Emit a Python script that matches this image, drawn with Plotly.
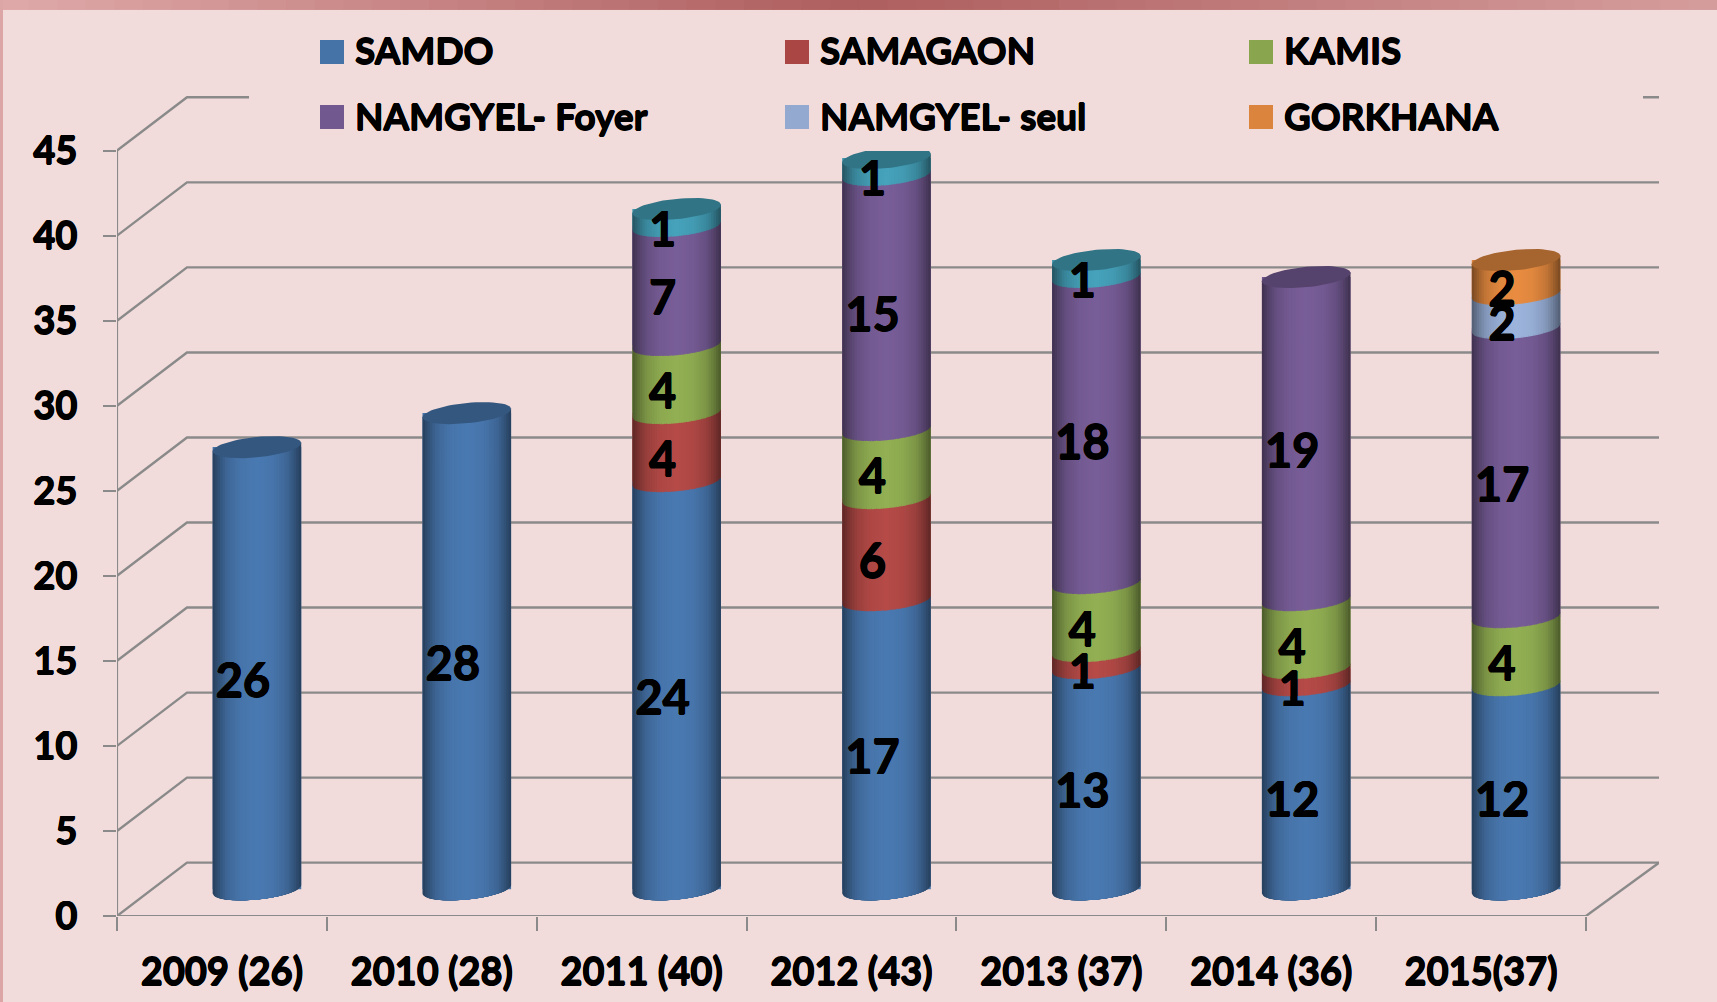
import numpy as np
import plotly.graph_objects as go

# ---- data ----
categories = ["2009 (26)", "2010 (28)", "2011 (40)", "2012 (43)", "2013 (37)", "2014 (36)", "2015(37)"]
samdo    = [26, 28, 24, 17, 13, 12, 12]
samagaon = [0, 0, 4, 6, 1, 1, 0]
kamis    = [0, 0, 4, 4, 4, 4, 4]
foyer    = [0, 0, 7, 15, 18, 19, 17]
autre    = [0, 0, 1, 1, 1, 0, 0]      # teal series, no legend entry in the original
seul     = [0, 0, 0, 0, 0, 0, 2]
gorkhana = [0, 0, 0, 0, 0, 0, 2]
y_ticks = [0, 5, 10, 15, 20, 25, 30, 35, 40, 45]

series_names = ["SAMDO", "SAMAGAON", "KAMIS", "NAMGYEL- Foyer", "", "NAMGYEL- seul", "GORKHANA"]
series_values = [samdo, samagaon, kamis, foyer, autre, seul, gorkhana]
series_colors = ["#4572A7", "#AA4643", "#89A54E", "#71588F", "#4198AF", "#93A9CF", "#DB843D"]

# ---- geometry of the fake 3D box (pixels) ----
W, H = 1717, 1002
PX_L, PX_FRONT_R, PX_BACK_R = 117.0, 1586.0, 1659.0
PX_BOTTOM, PX_TOP = 915.6, 96.0
UNIT = 17.0                                  # px per value unit
CAT = (PX_FRONT_R - PX_L) / len(categories)  # px per category
DX = 70.0 / CAT                              # depth in x-axis units
DY = 53.3 / UNIT                             # depth in y-axis units
R = 44.3 / CAT                               # cylinder radius, x units
SHEAR = 4.2 / UNIT                           # ellipse tilt, y units
B = 10.2 / UNIT                              # ellipse half-height, y units
LABEL_DROP = 6.5 / UNIT                      # text baseline correction, y units
X0, X1 = -0.5, len(categories) - 0.5
XMAX = X1 + (PX_BACK_R - PX_FRONT_R) / CAT
YMAX = (PX_BOTTOM - PX_TOP) / UNIT
BG = "#F2DCDB"
GRID = "#8A8A8A"
FONT = "Lato"
HEAVY = "0.6px 0 0 black, -0.6px 0 0 black, 0 0.6px 0 black, 0 -0.6px 0 black"


def shade(hex_color, f):
    rgb = [int(hex_color[i:i + 2], 16) for i in (1, 3, 5)]
    return "rgb({},{},{})".format(*[min(255, int(round(c * f))) for c in rgb])


def arc(cx, v, r, reverse=False):
    lim = np.arccos(r)
    phi = np.linspace(lim, np.pi - lim, 25)
    if not reverse:
        phi = phi[::-1]
    return cx + R * np.cos(phi), v + SHEAR * np.cos(phi) - B * np.sin(phi)


fig = go.Figure()
centers = [i + DX / 2 for i in range(len(categories))]
cum = np.zeros(len(categories))
bases = []
for vals in series_values:
    bases.append(cum.copy())
    cum = cum + np.array(vals)
totals = cum

# real stacked bars (the base layer of every cylinder)
for name, vals, base, col in zip(series_names, series_values, bases, series_colors):
    fig.add_trace(go.Bar(
        x=centers, y=[v if v else None for v in vals], base=list(base + DY / 2),
        width=2 * R, name=name or "Autre", marker=dict(color=col, line=dict(width=0)),
        showlegend=False, hoverinfo="skip"))

# box gridlines
gx, gy = [], []
for t in y_ticks:
    gx += [X0, X0 + DX, XMAX, None]
    gy += [t, t + DY, t + DY, None]
gx += [X1, XMAX, None]
gy += [0, DY, None]
fig.add_trace(go.Scatter(x=gx, y=gy, mode="lines", line=dict(color=GRID, width=2.4),
                         cliponaxis=False, showlegend=False, hoverinfo="skip"))
fig.add_trace(go.Scatter(x=[X0, X0, None, X0, X1], y=[0, 45, None, 0, 0], mode="lines",
                         line=dict(color=GRID, width=2.2), cliponaxis=False,
                         showlegend=False, hoverinfo="skip"))

# cylinder shading: nested bands from dark edge to bright centre
levels = np.linspace(1.0, 0.06, 18)
for r in levels:
    f = float(np.interp(r, [0, 0.4, 0.7, 0.85, 0.95, 1.0], [1.07, 1.02, 0.9, 0.76, 0.64, 0.58]))
    for vals, base, col in zip(series_values, bases, series_colors):
        xs, ys = [], []
        for c, v, b in zip(centers, vals, base):
            if not v:
                continue
            low = b + DY / 2
            high = low + v + 0.06
            xa, ya = arc(c, low, r)
            xb, yb = arc(c, high, r, reverse=True)
            xs += list(xa) + list(xb) + [None]
            ys += list(ya) + list(yb) + [None]
        if xs:
            fig.add_trace(go.Scatter(x=xs, y=ys, mode="lines", fill="toself",
                                     fillcolor=shade(col, f), line=dict(width=0),
                                     showlegend=False, hoverinfo="skip"))

# top caps
phi_full = np.linspace(0, 2 * np.pi, 61)
for idx, (vals, base, col) in enumerate(zip(series_values, bases, series_colors)):
    xs, ys = [], []
    for c, v, b, tot in zip(centers, vals, base, totals):
        if v and b + v == tot:
            top = tot + DY / 2
            xs += list(c + R * np.cos(phi_full)) + [None]
            ys += list(top + SHEAR * np.cos(phi_full) + B * np.sin(phi_full)) + [None]
    if xs:
        fig.add_trace(go.Scatter(x=xs, y=ys, mode="lines", fill="toself",
                                 fillcolor=shade(col, 0.76), line=dict(width=0),
                                 showlegend=False, hoverinfo="skip"))

# value labels
for vals, base in zip(series_values, bases):
    lx, ly, lt = [], [], []
    for i, (v, b) in enumerate(zip(vals, base)):
        if v:
            lx.append(i + 0.3 * DX)
            ly.append(b + v / 2 + 0.3 * DY - LABEL_DROP)
            lt.append(str(v))
    if lx:
        fig.add_trace(go.Scatter(x=lx, y=ly, text=lt, mode="text", textposition="middle center",
                                 textfont=dict(family=FONT, size=47, color="black", weight=700, shadow=HEAVY),
                                 cliponaxis=False, showlegend=False, hoverinfo="skip"))


# helpers: page pixels to paper coordinates
def px(x):
    return (x - PX_L) / (PX_BACK_R - PX_L)


def py(y):
    return (PX_BOTTOM - y) / (PX_BOTTOM - PX_TOP)


shapes = []
# page frame: top gradient band and left stripe
n_band = 60
stops_x = [0, 0.5, 1]
stops = [(224, 170, 170), (174, 94, 94), (214, 158, 158)]
for i in range(n_band):
    t = (i + 0.5) / n_band
    c = [int(np.interp(t, stops_x, [s[k] for s in stops])) for k in range(3)]
    shapes.append(dict(type="rect", xref="paper", yref="paper", layer="below",
                       x0=px(W * i / n_band), x1=px(W * (i + 1) / n_band + 1), y0=py(0), y1=py(10),
                       fillcolor="rgb({},{},{})".format(*c), line=dict(width=0)))
shapes.append(dict(type="rect", xref="paper", yref="paper", layer="below",
                   x0=px(0), x1=px(3), y0=py(0), y1=py(H), fillcolor="#DDA6A6", line=dict(width=0)))
# legend panel (hides the 45 back line and the top of the tallest cylinder)
shapes.append(dict(type="rect", xref="paper", yref="paper", layer="above",
                   x0=px(249), x1=px(1643), y0=py(20), y1=py(151), fillcolor=BG, line=dict(width=0)))

# legend
legend_slots = [(320, 40), (785, 40), (1249, 40), (320, 105), (785, 105), (1249, 105)]
legend_order = [0, 1, 2, 3, 5, 6]
annotations = []
for (sx, sy), k in zip(legend_slots, legend_order):
    shapes.append(dict(type="rect", xref="paper", yref="paper", layer="above",
                       x0=px(sx), x1=px(sx + 24), y0=py(sy), y1=py(sy + 24),
                       fillcolor=series_colors[k], line=dict(width=0)))
    annotations.append(dict(xref="paper", yref="paper", x=px(sx + 33), y=py(sy + 10), text=series_names[k],
                            showarrow=False, xanchor="left", yanchor="middle",
                            font=dict(family=FONT, size=37, color="black", weight=700, shadow=HEAVY)))

fig.update_layout(
    width=W, height=H, autosize=False,
    margin=dict(l=PX_L, r=W - PX_BACK_R, t=PX_TOP, b=H - PX_BOTTOM, pad=0),
    paper_bgcolor=BG, plot_bgcolor="rgba(0,0,0,0)",
    barmode="overlay", showlegend=False, hovermode=False,
    shapes=shapes, annotations=annotations,
    xaxis=dict(range=[X0, XMAX], tickmode="array", tickvals=list(range(len(categories))),
               ticktext=categories, ticks="", showgrid=False, zeroline=False, showline=False,
               automargin=False, ticklabelstandoff=30,
               tickfont=dict(family=FONT, size=38, color="black", weight=700, shadow=HEAVY),
               minor=dict(tickmode="array", tickvals=[X0 + i for i in range(len(categories) + 1)],
                          ticks="outside", ticklen=14, tickwidth=1.5, tickcolor=GRID, showgrid=False)),
    yaxis=dict(range=[0, YMAX], tickmode="array", tickvals=y_ticks, ticktext=[str(t) for t in y_ticks],
               ticks="outside", ticklen=13, tickwidth=1.5, tickcolor=GRID, showgrid=False,
               zeroline=False, showline=False, automargin=False, ticklabelstandoff=18,
               tickfont=dict(family=FONT, size=38, color="black", weight=700, shadow=HEAVY)),
)

fig.write_html("out.html", config=dict(displayModeBar=False),
               post_script="document.body.style.margin='0';document.documentElement.style.overflow='hidden';")
